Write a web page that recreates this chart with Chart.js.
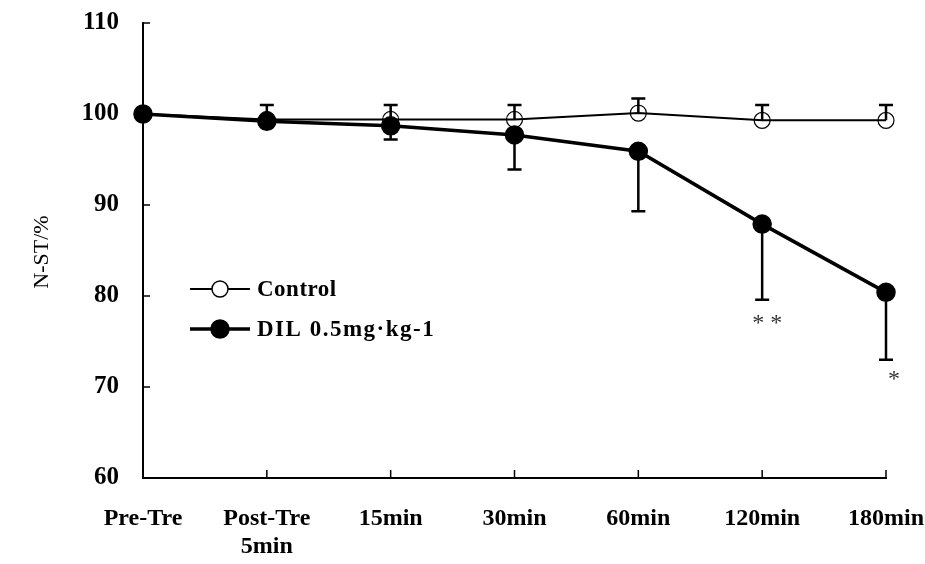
<!DOCTYPE html>
<html>
<head>
<meta charset="utf-8">
<script src="https://cdn.jsdelivr.net/npm/chart.js@4.4.0/dist/chart.umd.min.js"></script>
<style>
  html,body{margin:0;padding:0;background:#fff;}
  #wrap{width:925px;height:564px;position:relative;}
</style>
</head>
<body>
<div id="wrap"><canvas id="chart"></canvas></div>
<script>
const categories = ['Pre-Tre', ['Post-Tre', '5min'], '15min', '30min', '60min', '120min', '180min'];
const controlMean = [100, 99.4, 99.4, 99.4, 100.1, 99.3, 99.3];
const controlErr  = [0, 1.6, 1.6, 1.6, 1.6, 1.7, 1.7];
const dilMean = [100, 99.2, 98.7, 97.7, 95.9, 87.9, 80.4];
const dilErr  = [0, 0.5, 1.5, 3.8, 6.6, 8.3, 7.4];
const yTicks = [60, 70, 80, 90, 100, 110];
const marks = [{i: 5, text: '* *', dx: 5, dy: 12}, {i: 6, text: '*', dx: 8, dy: 8}];

const serif = '"Liberation Serif", "Times New Roman", serif';

// error bars, inward ticks, legend, significance marks
const extras = {
  id: 'extras',
  afterDatasetsDraw(c) {
    const ctx = c.ctx, x = c.scales.x, y = c.scales.y;
    ctx.save();
    ctx.strokeStyle = '#000';
    ctx.lineWidth = 2.5;
    const bar = (i, v0, v1) => {
      const px = x.getPixelForValue(i);
      const a = y.getPixelForValue(v0), b = y.getPixelForValue(v1);
      ctx.beginPath();
      ctx.moveTo(px, a); ctx.lineTo(px, b);
      ctx.moveTo(px - 7, b); ctx.lineTo(px + 7, b);
      ctx.stroke();
    };
    controlMean.forEach((m, i) => { if (controlErr[i]) bar(i, m, m + controlErr[i]); });
    dilMean.forEach((m, i) => { if (dilErr[i]) bar(i, m, m - dilErr[i]); });
    ctx.restore();
  },
  afterDraw(c) {
    const ctx = c.ctx, x = c.scales.x, y = c.scales.y, area = c.chartArea;
    ctx.save();
    ctx.strokeStyle = '#000';
    ctx.lineWidth = 1.5;
    // ticks pointing into the plot
    yTicks.forEach(v => {
      const py = y.getPixelForValue(v);
      ctx.beginPath(); ctx.moveTo(area.left, py); ctx.lineTo(area.left + 7, py); ctx.stroke();
    });
    categories.forEach((_, i) => {
      const px = x.getPixelForValue(i);
      ctx.beginPath(); ctx.moveTo(px, area.bottom); ctx.lineTo(px, area.bottom - 8); ctx.stroke();
    });

    // significance stars
    ctx.fillStyle = '#333';
    ctx.font = '24px ' + serif;
    ctx.textAlign = 'center';
    ctx.textBaseline = 'top';
    marks.forEach(m => {
      const px = x.getPixelForValue(m.i);
      const py = y.getPixelForValue(dilMean[m.i] - dilErr[m.i]);
      ctx.fillText(m.text, px + m.dx, py + m.dy);
    });

    // legend
    const items = [
      {label: 'Control', fill: '#fff', lw: 2, r: 8},
      {label: 'DIL 0.5mg\u00b7kg-1', fill: '#000', lw: 3.5, r: 9}
    ];
    ctx.font = 'bold 23px ' + serif;
    ctx.textAlign = 'left';
    ctx.textBaseline = 'middle';
    items.forEach((it, k) => {
      const ly = 289 + k * 40;
      ctx.lineWidth = it.lw;
      ctx.beginPath(); ctx.moveTo(190, ly); ctx.lineTo(250, ly); ctx.stroke();
      ctx.beginPath(); ctx.arc(220, ly, it.r, 0, Math.PI * 2);
      ctx.fillStyle = it.fill; ctx.fill();
      ctx.lineWidth = 1.5; ctx.stroke();
      ctx.fillStyle = '#000';
      ctx.letterSpacing = k ? '1.5px' : '0.5px';
      ctx.fillText(it.label, 257, ly + 1);
    });
    ctx.letterSpacing = '0px';

    // y title
    ctx.translate(42, 252);
    ctx.rotate(-Math.PI / 2);
    ctx.textAlign = 'center';
    ctx.font = '22px ' + serif;
    ctx.fillText('N-ST/%', 0, 0);
    ctx.restore();
  }
};

new Chart(document.querySelector('#chart'), {
  type: 'line',
  data: {
    labels: categories,
    datasets: [
      {
        label: 'DIL 0.5mg\u00b7kg-1',
        data: dilMean,
        borderColor: '#000',
        borderWidth: 3.5,
        pointRadius: 9,
        pointBackgroundColor: '#000',
        pointBorderColor: '#000',
        pointBorderWidth: 1.5,
        tension: 0
      },
      {
        label: 'Control',
        data: controlMean,
        borderColor: '#000',
        borderWidth: 2,
        pointRadius: 8,
        pointBackgroundColor: 'rgba(255,255,255,0)',
        pointBorderColor: '#000',
        pointBorderWidth: 1.2,
        tension: 0
      }
    ]
  },
  options: {
    responsive: true,
    maintainAspectRatio: false,
    animation: false,
    clip: false,
    layout: {autoPadding: false, padding: {top: 23, right: 39, left: 0, bottom: 0}},
    plugins: {legend: {display: false}, tooltip: {enabled: false}},
    scales: {
      x: {
        offset: false,
        grid: {display: true, drawOnChartArea: false, drawTicks: false},
        border: {display: true, color: '#000', width: 2},
        ticks: {
          color: '#000', padding: 26, maxRotation: 0, autoSkip: false,
          font: {family: serif, size: 24, weight: 'bold', lineHeight: 1.2}
        },
        afterFit(s) { s.height = 86; s.paddingLeft = 0; s.paddingRight = 0; }
      },
      y: {
        min: 60, max: 110,
        afterBuildTicks(s) { s.ticks = yTicks.map(v => ({value: v})); },
        grid: {display: true, drawOnChartArea: false, drawTicks: false},
        border: {display: true, color: '#000', width: 2},
        ticks: {
          color: '#000', padding: 24,
          font: {family: serif, size: 25, weight: 'bold'}
        },
        afterFit(s) { s.width = 143; s.paddingTop = 0; s.paddingBottom = 0; }
      }
    }
  },
  plugins: [extras]
});
</script>
</body>
</html>
